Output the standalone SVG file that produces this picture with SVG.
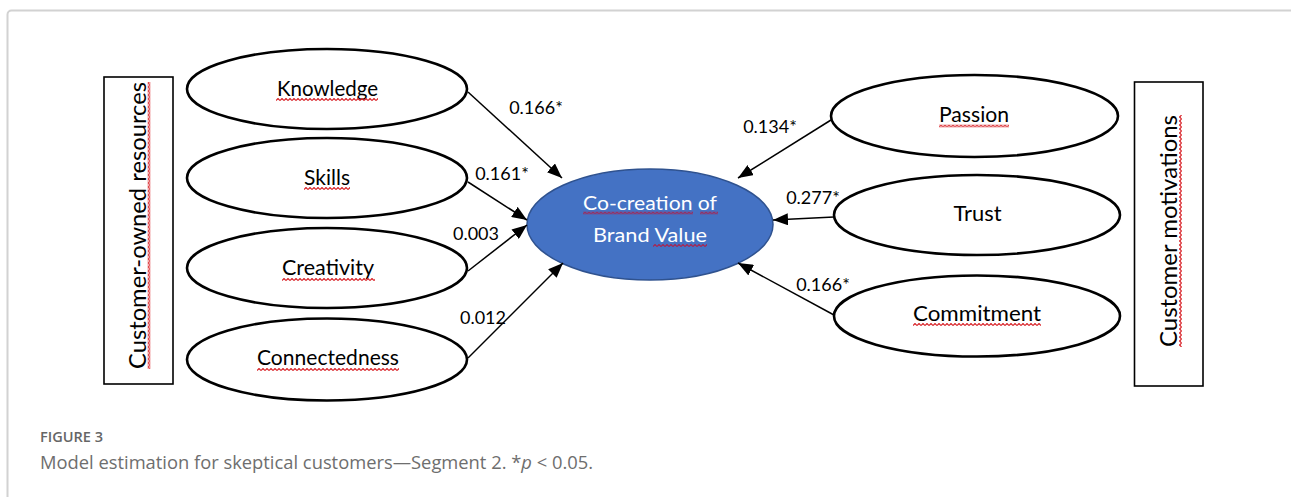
<svg xmlns="http://www.w3.org/2000/svg" width="1291" height="497" viewBox="0 0 1291 497">
  <style>
    .card { fill: #ffffff; stroke: #d2d2d2; stroke-width: 2; }
    .frame { fill: #ffffff; stroke: #000000; stroke-width: 1.6; }
    .node { fill: #ffffff; stroke: #000000; stroke-width: 2.6; }
    .core { fill: #4472c4; stroke: #2f528f; stroke-width: 1.5; }
    .label { font-family: Lato, "Liberation Sans", sans-serif; font-size: 22px; fill: #000000; text-anchor: middle; }
    .side { font-family: Lato, "Liberation Sans", sans-serif; font-size: 23.5px; fill: #000000; }
    .core-text { font-family: Lato, "Liberation Sans", sans-serif; font-size: 19.5px; fill: #ffffff; text-anchor: middle; }
    .coef { font-family: Lato, "Liberation Sans", sans-serif; font-size: 18px; fill: #000000; text-anchor: middle; }
    .link { stroke: #000000; stroke-width: 1.5; fill: none; marker-end: url(#head); }
    .cap-title { font-family: "Open Sans", "Liberation Sans", sans-serif; font-size: 15px; font-weight: 600; fill: #666666; }
    .cap-text { font-family: "Open Sans", "Liberation Sans", sans-serif; font-size: 17.5px; fill: #6e6e6e; }
    .wavy { fill: url(#wavy); }
    .wavy-dark { fill: url(#wavyDark); }
  </style>
  <defs>
    <marker id="head" markerUnits="userSpaceOnUse" markerWidth="15" markerHeight="12" refX="15" refY="6" orient="auto">
      <path d="M0,0 L15,6 L0,12 Z" fill="#000000"/>
    </marker>
    <!-- spell-check style zigzag underline -->
    <pattern id="wavy" patternUnits="userSpaceOnUse" width="4" height="3">
      <path d="M0,2.5 L2,0.5 L4,2.5" fill="none" stroke="#d9262b" stroke-width="1.2"/>
    </pattern>
    <pattern id="wavyDark" patternUnits="userSpaceOnUse" width="4" height="3">
      <path d="M0,2.5 L2,0.5 L4,2.5" fill="none" stroke="#a8234f" stroke-width="1.2"/>
    </pattern>
  </defs>

  <rect width="1291" height="497" fill="#ffffff"/>
  <rect class="card" x="7.5" y="10.5" width="1400" height="600" rx="4"/>

  <!-- grouping frame, left -->
  <g id="resources-frame">
    <rect class="frame" x="104" y="77" width="69" height="307"/>
    <text class="side" transform="translate(146,369) rotate(-90)" x="0" y="0" textLength="287" lengthAdjust="spacingAndGlyphs">Customer-owned resources</text>
    <g transform="translate(147.5,369) rotate(-90)"><rect class="wavy" x="0" y="0" width="287" height="3"/></g>
  </g>

  <!-- grouping frame, right -->
  <g id="motivations-frame">
    <rect class="frame" x="1134.5" y="82" width="68.5" height="304"/>
    <text class="side" transform="translate(1177,347) rotate(-90)" x="0" y="0" textLength="232" lengthAdjust="spacingAndGlyphs">Customer motivations</text>
    <g transform="translate(1179,347) rotate(-90)"><rect class="wavy" x="0" y="0" width="232" height="3"/></g>
  </g>

  <!-- predictor constructs -->
  <g id="knowledge">
    <ellipse class="node" cx="327" cy="89" rx="140" ry="40"/>
    <text class="label" x="327.5" y="96" textLength="101" lengthAdjust="spacingAndGlyphs">Knowledge</text>
    <g transform="translate(276,98)"><rect class="wavy" x="0" y="0" width="102" height="3"/></g>
  </g>
  <g id="skills">
    <ellipse class="node" cx="327" cy="178" rx="140" ry="40"/>
    <text class="label" x="327" y="184.5" textLength="46" lengthAdjust="spacingAndGlyphs">Skills</text>
    <g transform="translate(304,187)"><rect class="wavy" x="0" y="0" width="46" height="3"/></g>
  </g>
  <g id="creativity">
    <ellipse class="node" cx="327" cy="268" rx="140" ry="40"/>
    <text class="label" x="328" y="274.5" textLength="92" lengthAdjust="spacingAndGlyphs">Creativity</text>
    <g transform="translate(282,278)"><rect class="wavy" x="0" y="0" width="93" height="3"/></g>
  </g>
  <g id="connectedness">
    <ellipse class="node" cx="327" cy="359.5" rx="140" ry="41"/>
    <text class="label" x="328" y="365" textLength="142" lengthAdjust="spacingAndGlyphs">Connectedness</text>
    <g transform="translate(257,368)"><rect class="wavy" x="0" y="0" width="142" height="3"/></g>
  </g>

  <g id="passion">
    <ellipse class="node" cx="974.5" cy="116" rx="143.5" ry="41"/>
    <text class="label" x="974" y="122" textLength="70" lengthAdjust="spacingAndGlyphs">Passion</text>
    <g transform="translate(939,124.5)"><rect class="wavy" x="0" y="0" width="70" height="3"/></g>
  </g>
  <g id="trust">
    <ellipse class="node" cx="977" cy="215" rx="143" ry="40"/>
    <text class="label" x="977.5" y="221" textLength="48" lengthAdjust="spacingAndGlyphs">Trust</text>
  </g>
  <g id="commitment">
    <ellipse class="node" cx="977" cy="316" rx="143" ry="40.5"/>
    <text class="label" x="977" y="320.5" textLength="128" lengthAdjust="spacingAndGlyphs">Commitment</text>
    <g transform="translate(913,323)"><rect class="wavy" x="0" y="0" width="128" height="3"/></g>
  </g>

  <!-- outcome construct -->
  <g id="brand-value">
    <ellipse class="core" cx="650" cy="224.5" rx="123" ry="55.5"/>
    <text class="core-text" x="650" y="209.5" textLength="134" lengthAdjust="spacingAndGlyphs">Co-creation of</text>
    <text class="core-text" x="650" y="241.5" textLength="114" lengthAdjust="spacingAndGlyphs">Brand Value</text>
    <g transform="translate(583,211.5)"><rect class="wavy-dark" x="0" y="0" width="110" height="3"/></g>
    <g transform="translate(700,211.5)"><rect class="wavy-dark" x="0" y="0" width="18" height="3"/></g>
    <g transform="translate(653,244)"><rect class="wavy-dark" x="0" y="0" width="54" height="3"/></g>
  </g>

  <!-- paths into the outcome -->
  <g id="connectors">
    <line class="link" x1="468" y1="92" x2="562" y2="178"/>
    <line class="link" x1="468" y1="182" x2="527" y2="220"/>
    <line class="link" x1="468" y1="271" x2="527" y2="225"/>
    <line class="link" x1="468" y1="358" x2="563" y2="263"/>
    <line class="link" x1="831" y1="120" x2="738" y2="178"/>
    <line class="link" x1="834" y1="217" x2="773" y2="220"/>
    <line class="link" x1="834" y1="315" x2="738" y2="263"/>

    <text class="coef" x="536" y="114">0.166*</text>
    <text class="coef" x="502" y="180">0.161*</text>
    <text class="coef" x="476" y="240">0.003</text>
    <text class="coef" x="483" y="324">0.012</text>
    <text class="coef" x="770" y="133">0.134*</text>
    <text class="coef" x="813" y="204">0.277*</text>
    <text class="coef" x="823" y="291">0.166*</text>
  </g>

  <!-- caption -->
  <text class="cap-title" x="40" y="442" textLength="63" lengthAdjust="spacingAndGlyphs">FIGURE 3</text>
  <text class="cap-text" x="40" y="469" textLength="553" lengthAdjust="spacingAndGlyphs">Model estimation for skeptical customers—Segment 2. *<tspan font-style="italic">p</tspan> &lt; 0.05.</text>
</svg>
